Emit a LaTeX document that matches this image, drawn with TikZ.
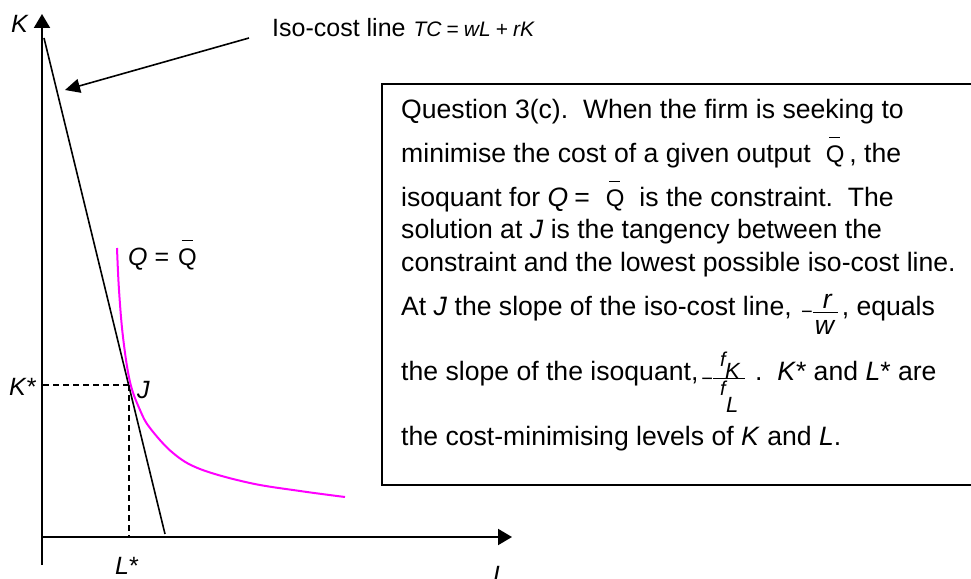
\documentclass[tikz,border=0pt]{standalone}
\usepackage{fontspec}
\setmainfont{Liberation Sans}
\usepackage{xcolor}
\usepackage{tikz}
\usetikzlibrary{arrows.meta,calc}
\definecolor{isoq}{HTML}{FF00FF}
\newcommand{\qbar}{{\fontsize{24}{24}\selectfont\rlap{\hspace{3.5pt}\rule[24pt]{11pt}{1.1pt}}Q}}
\newcommand{\mn}[1][-3pt]{\raisebox{#1}{\fontsize{20}{20}\selectfont −}}
\newcommand{\rwfrac}{\rlap{\rule[2pt]{25pt}{0.9pt}}\rlap{\hspace{10pt}\raisebox{7pt}{\textit{r}}}\rlap{\hspace{2pt}\raisebox{-19pt}{\textit{w}}}\hspace{25pt}}
\newcommand{\fkfrac}{\rlap{\rule[1pt]{32pt}{0.9pt}}%
  \rlap{\hspace{7pt}\raisebox{14pt}{\fontsize{20}{20}\selectfont\itshape f}}%
  \rlap{\hspace{12pt}\raisebox{2pt}{\fontsize{22}{22}\selectfont\itshape K}}%
  \rlap{\hspace{7pt}\raisebox{-15pt}{\fontsize{20}{20}\selectfont\itshape f}}%
  \rlap{\hspace{13pt}\raisebox{-32pt}{\fontsize{22}{22}\selectfont\itshape L}}\hspace{32pt}}
\tikzset{
  lbl/.style={font=\fontsize{25}{30}\selectfont, inner sep=0pt, anchor=base west},
  txt/.style={font=\fontsize{26.6}{31}\selectfont, inner sep=0pt, anchor=base west},
  axis/.style={line width=2pt},
  guide/.style={line width=1.8pt, dash pattern=on 6pt off 4pt},
}
\begin{document}
\begin{tikzpicture}[x=1pt, y=-1pt, >={Triangle[length=14pt,width=16pt]}]
  \useasboundingbox (0,0) rectangle (971,578);
  \coordinate (O) at (42,537); \coordinate (ytop) at (42,14); \coordinate (ybot) at (42,565);
  \coordinate (xend) at (512,537);
  \coordinate (c1) at (44,38); \coordinate (c2) at (165,534); \coordinate (J) at (128.7,385);
  \coordinate (astart) at (249,38); \coordinate (atip) at (65,90);
  \fill[white] (0,0) rectangle (971,578);
  \draw[axis,->] (ybot) -- (ytop);
  \draw[axis,->] (O) -- (xend);
  \draw[guide] (J) -- (J -| O);
  \draw[guide] (J) -- (J |- O);
  \draw[line width=1.6pt] (c1) -- (c2);
  \draw[isoq, line width=2pt] plot[smooth, tension=0.6] coordinates {(117,248) (119,290) (123,337) (130,382) (140,410) (150,428) (173,453) (200,469) (250,483) (300,491) (345,497)};
  \draw[line width=1.6pt, -{Triangle[length=15pt,width=14pt]}] (astart) -- (atip);
  \draw[line width=2pt] (382,84) rectangle (990,485);
  \node[lbl] (klab) at (11,33) {\textit{K}};
  \node[lbl] (kstar) at (9,395) {\textit{K}*};
  \node[lbl] (jlab) at (137,398) {\textit{J}};
  \node[lbl] (lstar) at (115,574) {\textit{L}*};
  \node[lbl] (llab) at (493,583) {\textit{L}};
  \node[lbl] (qlab) at (128,265) {\textit{Q} =\hspace{9pt}\qbar};
  \node[lbl] (costlab) at (272,37) {Iso-cost line\hspace{8pt}{\fontsize{21}{21}\selectfont\textit{TC}\hspace{5pt}=\hspace{5pt}\textit{wL}\hspace{5pt}+\hspace{5pt}\textit{rK}}};
  \node[txt] (l1) at (401,118) {Question 3(c).\ \ When the firm is seeking to};
  \node[txt] (l2) at (401,162) {minimise the cost of a given output\hspace{15pt}\qbar\hspace{5pt}, the};
  \node[txt] (l3) at (401,206) {isoquant for \textit{Q}\hspace{6pt}=\hspace{16pt}\qbar\hspace{15pt}is the constraint.\ \ The};
  \node[txt] (l4) at (401,238) {solution at \textit{J} is the tangency between the};
  \node[txt] (l5) at (401,271) {constraint and the lowest possible iso-cost line.};
  \node[txt] (l6) at (401,315) {At \textit{J} the slope of the iso-cost line,\ \hspace{2pt}\mn\rwfrac\hspace{4pt}, equals};
  \node[txt] (l7) at (401,380) {the slope of the isoquant,\hspace{3pt}\mn[-5pt]\fkfrac\hspace{10pt}.\ \ \textit{K}* and \textit{L}* are};
  \node[txt] (l8) at (401,445) {the cost-minimising levels of \textit{K} and \textit{L}.};
\end{tikzpicture}
\end{document}
